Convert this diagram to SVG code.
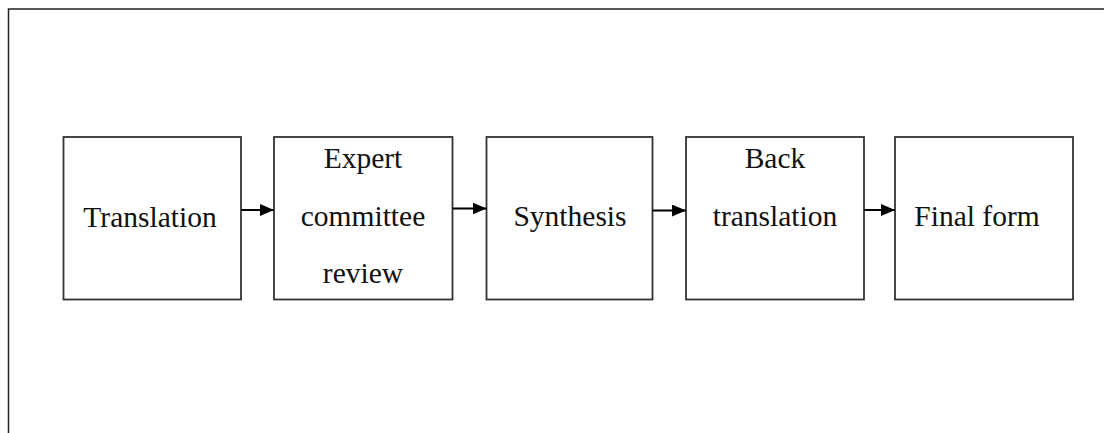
<svg xmlns="http://www.w3.org/2000/svg" width="1104" height="433" viewBox="0 0 1104 433">
<style>
.frame{fill:none;stroke:#222;stroke-width:1.5}
.box{fill:#fff;stroke:#333;stroke-width:1.8}
.lbl{font-family:"Liberation Serif","Times New Roman",serif;font-size:29.5px;fill:#111;text-anchor:middle}
.conn{stroke:#000;stroke-width:2;fill:none}
</style>
<defs>
<marker id="ah" markerWidth="14" markerHeight="12" refX="14" refY="6" orient="auto" markerUnits="userSpaceOnUse">
<path d="M0,0 L14,6 L0,12 Z" fill="#000"/>
</marker>
</defs>
<rect width="1104" height="433" fill="#fff"/>
<path class="frame" d="M8.5,440 V9 H1110"/>
<g id="n1"><rect class="box" x="63.5" y="137" width="177.5" height="162.5"/><text class="lbl" x="150" y="227">Translation</text></g>
<g id="n2"><rect class="box" x="274" y="137" width="178.5" height="162.5"/><text class="lbl" x="363" y="168">Expert</text><text class="lbl" x="363" y="226">committee</text><text class="lbl" x="363" y="283">review</text></g>
<g id="n3"><rect class="box" x="486.5" y="137" width="166" height="162.5"/><text class="lbl" x="570" y="226">Synthesis</text></g>
<g id="n4"><rect class="box" x="686" y="137" width="178" height="162.5"/><text class="lbl" x="775" y="168">Back</text><text class="lbl" x="775" y="226">translation</text></g>
<g id="n5"><rect class="box" x="895" y="137" width="178" height="162.5"/><text class="lbl" x="977" y="226">Final form</text></g>
<g id="connectors">
<line class="conn" x1="241" y1="210" x2="274" y2="210" marker-end="url(#ah)"/>
<line class="conn" x1="452.5" y1="208.5" x2="486.5" y2="208.5" marker-end="url(#ah)"/>
<line class="conn" x1="652.5" y1="210.5" x2="686" y2="210.5" marker-end="url(#ah)"/>
<line class="conn" x1="864" y1="210" x2="895" y2="210" marker-end="url(#ah)"/>
</g>
</svg>
